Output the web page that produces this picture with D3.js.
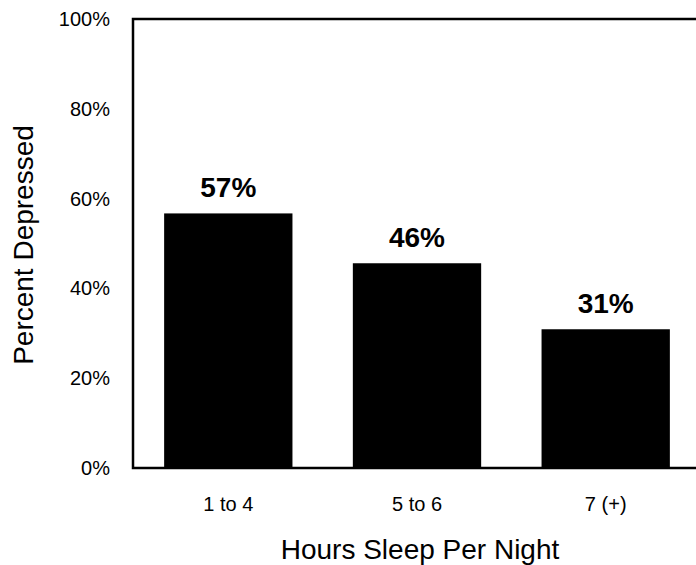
<!DOCTYPE html>
<html>
<head>
<meta charset="utf-8">
<script src="https://cdn.jsdelivr.net/npm/d3@7"></script>
<style>
  body { margin: 0; background: #fff; }
  text { font-family: "Liberation Sans", Arial, sans-serif; fill: #000; }
  .tick text { font-size: 20px; }
  .domain { display: none; }
</style>
</head>
<body>
<div id="chart"></div>
<script>
let categories = ["1 to 4", "5 to 6", "7 (+)"]
let depressed = [0.567, 0.456, 0.309]
let yTicks = [0, 0.2, 0.4, 0.6, 0.8, 1]

let width = 696
let height = 565
let margin = {top: 19, bottom: 97, left: 133, right: -5}

let svg = d3.select("#chart")
  .append("svg")
  .attr("width", width)
  .attr("height", height)

let w = width - (margin.left + margin.right)
let h = height - (margin.top + margin.bottom)

let xScale = d3.scaleBand()
  .domain(categories)
  .range([0, w])
  .paddingInner(0.32)
  .paddingOuter(0.165)

let yScale = d3.scaleLinear().domain([0, 1]).range([h, 0])

let plot = svg.append("g")
  .attr("transform", "translate(" + margin.left + "," + margin.top + ")")

// bars
plot.selectAll("rect.bar")
  .data(categories)
  .enter()
  .append("rect")
  .attr("class", "bar")
  .attr("x", d => xScale(d))
  .attr("y", (d, i) => yScale(depressed[i]))
  .attr("width", xScale.bandwidth())
  .attr("height", (d, i) => h - yScale(depressed[i]))
  .style("fill", "#000")

// value labels
plot.selectAll("text.val")
  .data(categories)
  .enter()
  .append("text")
  .attr("class", "val")
  .attr("x", d => xScale(d) + xScale.bandwidth() / 2)
  .attr("y", (d, i) => yScale(depressed[i]) - 16)
  .style("text-anchor", "middle")
  .style("font-size", "28px")
  .style("font-weight", "bold")
  .text((d, i) => d3.format(".0%")(depressed[i]))

// frame: top, left, bottom
plot.append("path")
  .attr("d", "M" + w + ",0H0V" + h + "H" + w)
  .attr("fill", "none")
  .attr("stroke", "#000")
  .attr("stroke-width", 2.5)

plot.append("g")
  .call(d3.axisLeft(yScale)
    .tickValues(yTicks)
    .tickSize(0)
    .tickPadding(23)
    .tickFormat(d3.format(".0%")))

plot.append("g")
  .attr("transform", "translate(0," + h + ")")
  .call(d3.axisBottom(xScale)
    .tickSize(0)
    .tickPadding(29))

svg.append("text")
  .attr("class", "ylabel")
  .style("text-anchor", "middle")
  .style("font-size", "28px")
  .attr("transform", "translate(33," + 245 + ") rotate(-90)")
  .text("Percent Depressed")

svg.append("text")
  .attr("class", "xlabel")
  .style("text-anchor", "middle")
  .style("font-size", "28px")
  .attr("x", 420)
  .attr("y", 559)
  .text("Hours Sleep Per Night")
</script>
</body>
</html>
